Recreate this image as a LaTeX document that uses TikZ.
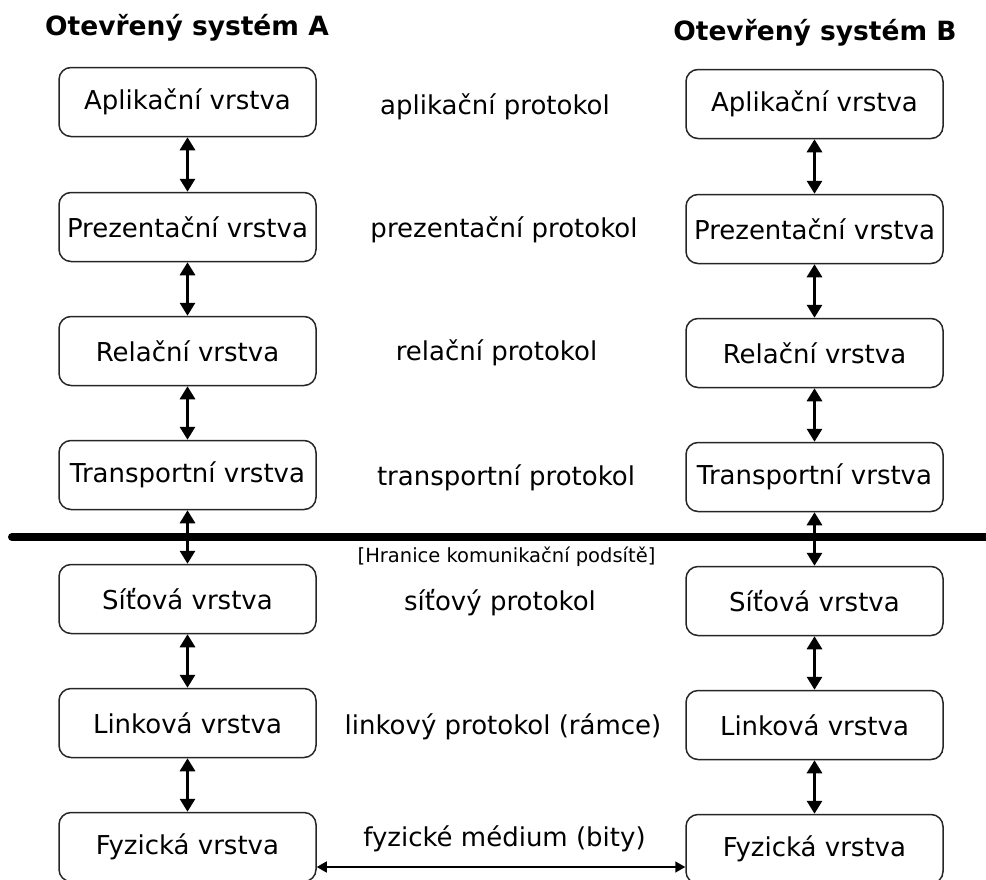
\documentclass[tikz,border=0pt]{standalone}
\usepackage{fontspec}
\setmainfont{DejaVu Sans}
\usetikzlibrary{arrows.meta}
\begin{document}
\begin{tikzpicture}[x=1pt,y=-1pt,
  layer/.style={draw=black!85, line width=1.5pt, rounded corners=12pt,
    minimum width=257pt, minimum height=69pt, inner sep=0pt,
    font=\fontsize{26}{30}\selectfont},
  proto/.style={font=\fontsize{26}{30}\selectfont},
  title/.style={font=\bfseries\fontsize{26.5}{30}\selectfont},
  note/.style={font=\fontsize{19.5}{22}\selectfont},
  link/.style={line width=3pt,
    {Triangle[width=15pt,length=13pt]}-{Triangle[width=15pt,length=13pt]}},
  medium/.style={line width=1.5pt,
    {Triangle[width=11pt,length=10pt]}-{Triangle[width=11pt,length=10pt]}},
]
\useasboundingbox (0,0) rectangle (986,879);

% system titles
\node[title] (tA) at (187,28) {Otevřený systém A};
\node[title] (tB) at (815,33) {Otevřený systém B};

% layers of system A
\node[layer] (A1) at (187.5,102) {Aplikační vrstva};
\node[layer] (A2) at (187.5,227) {Prezentační vrstva};
\node[layer] (A3) at (187.5,351) {Relační vrstva};
\node[layer] (A4) at (187.5,475) {Transportní vrstva};
\node[layer] (A5) at (187.5,599) {Síťová vrstva};
\node[layer] (A6) at (187.5,723) {Linková vrstva};
\node[layer] (A7) at (187.5,847) {Fyzická vrstva};

% layers of system B
\node[layer] (B1) at (814.5,104) {Aplikační vrstva};
\node[layer] (B2) at (814.5,229) {Prezentační vrstva};
\node[layer] (B3) at (814.5,353) {Relační vrstva};
\node[layer] (B4) at (814.5,477) {Transportní vrstva};
\node[layer] (B5) at (814.5,601) {Síťová vrstva};
\node[layer] (B6) at (814.5,725) {Linková vrstva};
\node[layer] (B7) at (814.5,849) {Fyzická vrstva};

% peer protocols
\node[proto] (p1) at (495,107) {aplikační protokol};
\node[proto] (p2) at (504,230) {prezentační protokol};
\node[proto] (p3) at (496.5,353) {relační protokol};
\node[proto] (p4) at (506,478) {transportní protokol};
\node[proto] (p5) at (500,603) {síťový protokol};
\node[proto] (p6) at (503,727) {linkový protokol (rámce)};
\node[proto] (p7) at (504.5,839) {fyzické médium (bity)};

% subnet boundary
\coordinate (bL) at (12,537);
\coordinate (bR) at (1000,537);
\draw[line width=8pt, line cap=round] (bL) -- (bR);
\node[note] (bnote) at (506.5,557) {[Hranice komunikační podsítě]};

% interfaces between adjacent layers
\foreach \s in {A,B}{
  \draw[link] (\s1.south) -- (\s2.north);
  \draw[link] (\s2.south) -- (\s3.north);
  \draw[link] (\s3.south) -- (\s4.north);
  \draw[link] (\s4.south) -- (\s5.north);
  \draw[link] (\s5.south) -- (\s6.north);
  \draw[link] (\s6.south) -- (\s7.north);
}

% physical medium
\coordinate (mA) at (A7.east |- 0,867);
\coordinate (mB) at (B7.west |- 0,867);
\draw[medium] (mA) -- (mB);
\end{tikzpicture}
\end{document}
